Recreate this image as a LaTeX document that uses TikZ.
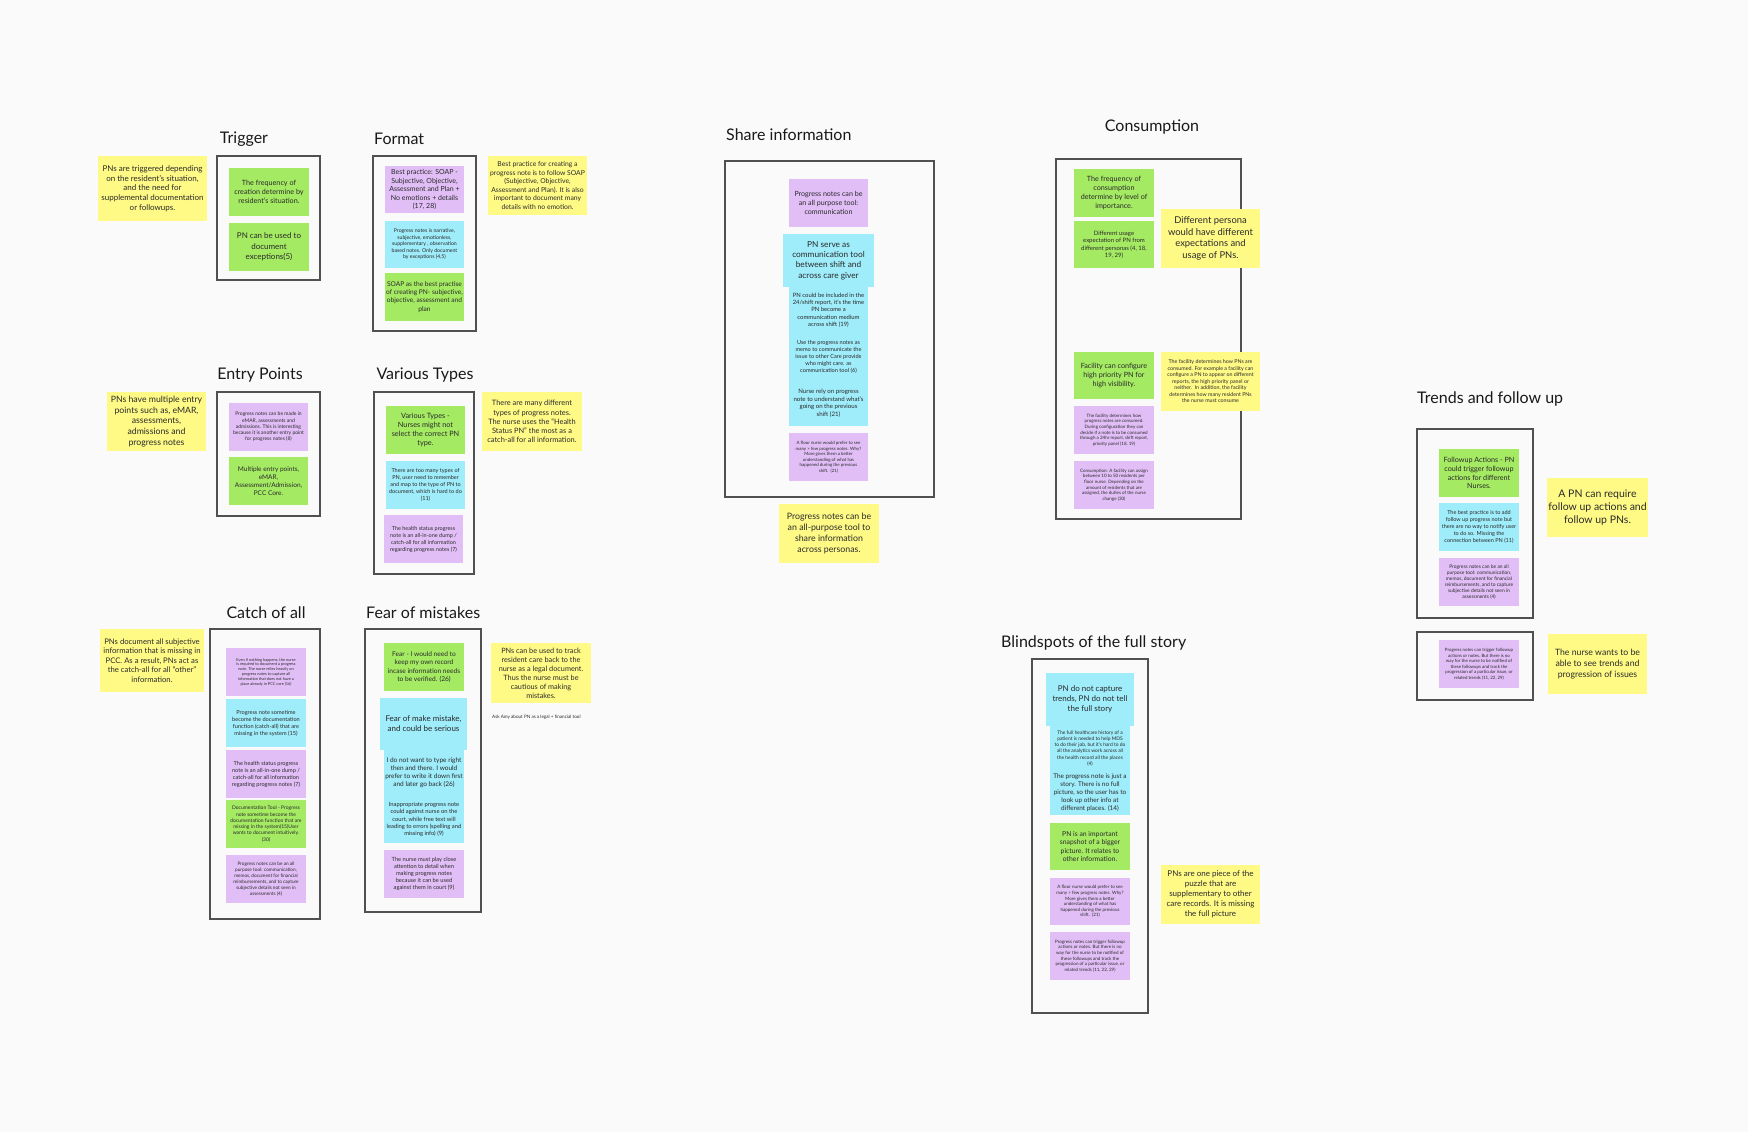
\documentclass[tikz,border=0pt]{standalone}
\usepackage{fontspec}
\setmainfont{Lato}
\definecolor{bgc}{HTML}{FAFAFA}
\definecolor{ylw}{HTML}{FFFA86}
\definecolor{grn}{HTML}{A4EA63}
\definecolor{blu}{HTML}{9FECFA}
\definecolor{prp}{HTML}{E1BEF6}
\definecolor{frm}{HTML}{505050}
\definecolor{txt}{HTML}{2A2A2A}
\newcommand\fs[2]{\fontsize{#1}{#2}\selectfont}
\newcommand\stk[8]{\pgfmathsetmacro\stkw{#5-#3}\pgfmathsetmacro\stkh{#6-#4}\pgfmathsetmacro\stkx{(#3+#5)/2}\pgfmathsetmacro\stky{(#4+#6)/2}%
  \node[#2, minimum width=\stkw pt, minimum height=\stkh pt, font=#7] (#1) at (\stkx,\stky) {#8};}
\newcommand\frmbox[5]{\pgfmathsetmacro\stkw{#4-#2}\pgfmathsetmacro\stkh{#5-#3}\pgfmathsetmacro\stkx{(#2+#4)/2}\pgfmathsetmacro\stky{(#3+#5)/2}%
  \node[frame, minimum width=\stkw pt, minimum height=\stkh pt] (#1) at (\stkx,\stky) {};}
\tikzset{
  note/.style={rectangle, inner sep=1pt, align=center, text=txt, draw=none},
  yl/.style={note, fill=ylw},
  gr/.style={note, fill=grn},
  bl/.style={note, fill=blu},
  pr/.style={note, fill=prp},
  frame/.style={rectangle, draw=frm, line width=1.4pt, fill=bgc, inner sep=0pt},
  ttl/.style={text=black!90, font=\fs{16}{19}, inner sep=0pt}
}
\begin{document}
\begin{tikzpicture}[x=1pt,y=-1pt]
\fill[bgc] (0,0) rectangle (1748,1132);
\useasboundingbox (0,0) rectangle (1748,1132);

% titles
\node[ttl] (tTrig) at (244,139) {Trigger};
\node[ttl, anchor=west] (tForm) at (374,139) {Format};
\node[ttl] (tEntry) at (260,375) {Entry Points};
\node[ttl] (tVar) at (425,375) {Various Types};
\node[ttl] (tCatch) at (266,613) {Catch of all};
\node[ttl, anchor=west] (tFear) at (366,613) {Fear of mistakes};
\node[ttl, anchor=west] (tShare) at (726,135) {Share information};
\node[ttl] (tCons) at (1152,127) {Consumption};
\node[ttl, anchor=west] (tTrend) at (1417,399) {Trends and follow up};
\node[ttl, anchor=west] (tBlind) at (1001,643) {Blindspots of the full story};

% frames
\frmbox{fTrig}{217}{156}{320}{280}
\frmbox{fForm}{373}{156}{476}{331}
\frmbox{fEntry}{217}{392}{320}{516}
\frmbox{fVar}{374}{392}{474}{574}
\frmbox{fCatch}{210}{629}{320}{919}
\frmbox{fFear}{365}{629}{481}{912}
\frmbox{fShare}{725}{161}{934}{497}
\frmbox{fCons}{1056}{159}{1241}{519}
\frmbox{fTrendA}{1417}{429}{1533}{618}
\frmbox{fTrendB}{1417}{632}{1533}{700}
\frmbox{fBlind}{1032}{659}{1148}{1013}

% Trigger
\stk{trY}{yl}{98}{156}{207}{221}{\fs{8}{9.7}}{PNs are triggered depending\\on the resident's situation,\\and the need for\\supplemental documentation\\or followups.}
\stk{trG1}{gr}{229}{168}{309}{216}{\fs{7.2}{9}}{The frequency of\\creation determine by\\resident's situation.}
\stk{trG2}{gr}{229}{223}{309}{271}{\fs{8}{10.3}}{PN can be used to\\document\\exceptions(5)}

% Format
\stk{foP}{pr}{385}{166}{464}{213}{\fs{7}{8.5}}{Best practice: SOAP -\\Subjective, Objective,\\Assessment and Plan +\\No emotions + details\\(17, 28)}
\stk{foB}{bl}{385}{221}{464}{268}{\fs{5.2}{6.5}}{Progress notes is narrative,\\subjective, emotionless,\\supplementary , observation\\based notes. Only document\\by exceptions (4,5)}
\stk{foG}{gr}{385}{273}{464}{321}{\fs{6.6}{8.1}}{SOAP as the best practise\\of creating PN- subjective,\\objective, assessment and\\plan}
\stk{foY}{yl}{488}{156}{587}{215}{\fs{6.8}{8.5}}{Best practice for creating a\\progress note is to follow SOAP\\(Subjective, Objective,\\Assessment and Plan). It is also\\important to document many\\details with no emotion.}

% Entry points
\stk{enY}{yl}{107}{392}{206}{451}{\fs{8.7}{10.7}}{PNs have multiple entry\\points such as, eMAR,\\assessments,\\admissions and\\progress notes}
\stk{enP}{pr}{229}{403}{308}{451}{\fs{5}{6.2}}{Progress notes can be made in\\eMAR, assessments and\\admissions. This is interesting\\because it is another entry point\\for progress notes (8)}
\stk{enG}{gr}{229}{457}{308}{505}{\fs{6.5}{8}}{Multiple entry points,\\eMAR,\\Assessment/Admission,\\PCC Core.}

% Various types
\stk{vaG}{gr}{386}{406}{465}{454}{\fs{7.3}{8.8}}{Various Types -\\Nurses might not\\select the correct PN\\type.}
\stk{vaB}{bl}{386}{461}{465}{509}{\fs{5.5}{7}}{There are too many types of\\PN, user need to remember\\and map to the type of PN to\\document, which is hard to do\\(11)}
\stk{vaP}{pr}{384}{515}{463}{563}{\fs{5.5}{7}}{The health status progress\\note is an all-in-one dump /\\catch-all for all information\\regarding progress notes (7)}
\stk{vaY}{yl}{482}{392}{582}{451}{\fs{7.4}{9.1}}{There are many different\\types of progress notes.\\The nurse uses the ``Health\\Status PN'' the most as a\\catch-all for all information.}

% Catch of all
\stk{caY}{yl}{100}{629}{204}{692}{\fs{7.7}{9.5}}{PNs document all subjective\\information that is missing in\\PCC. As a result, PNs act as\\the catch-all for all ``other''\\information.}
\stk{caP1}{pr}{226}{648}{306}{696}{\fs{3.9}{4.8}}{Even if nothing happens, the nurse\\is required to document a progress\\note. The nurse relies heavily on\\progress notes to capture all\\information that does not have a\\place already in PCC core (16)}
\stk{caB}{bl}{226}{699}{306}{747}{\fs{5.6}{7}}{Progress note sometime\\become the documentation\\function (catch-all) that are\\missing in the system (15)}
\stk{caP2}{pr}{226}{750}{306}{798}{\fs{5.6}{7}}{The health status progress\\note is an all-in-one dump /\\catch-all for all information\\regarding progress notes (7)}
\stk{caG}{gr}{226}{800}{306}{848}{\fs{5}{6.3}}{Documentation Tool - Progress\\note sometime become the\\documentation function that are\\missing in the system(15)User\\wants to document intuitively.\\(30)}
\stk{caP3}{pr}{226}{855}{306}{903}{\fs{4.7}{5.9}}{Progress notes can be an all\\purpose tool: communication,\\memos, document for financial\\reimbursements, and to capture\\subjective details not seen in\\assessments (4)}

% Fear of mistakes
\stk{feG}{gr}{384}{643}{464}{691}{\fs{6.6}{8.2}}{Fear - I would need to\\keep my own record\\incase information needs\\to be verified. (26)}
\stk{feB2}{bl}{384}{749}{464}{796.5}{\fs{6.5}{8}}{I do not want to type right\\then and there. I would\\prefer to write it down first\\and later go back (26)}
\stk{feB3}{bl}{384}{796}{464}{843}{\fs{5.8}{7.2}}{Inappropriate progress note\\could against nurse on the\\court, while free text will\\leading to errors (spelling and\\missing info) (9)}
\stk{feB1}{bl}{380}{698}{467}{750}{\fs{8}{10}}{Fear of make mistake,\\and could be serious}
\stk{feP}{pr}{384}{850}{464}{898}{\fs{5.7}{7.1}}{The nurse must play close\\attention to detail when\\making progress notes\\because it can be used\\against them in court (9)}
\stk{feY}{yl}{491}{643}{591}{703}{\fs{7.3}{9}}{PNs can be used to track\\resident care back to the\\nurse as a legal document.\\Thus the nurse must be\\cautious of making\\mistakes.}
\node[anchor=west, inner sep=0pt, text=txt, font=\fs{4.6}{5.5}] (feAsk) at (492,717) {Ask Amy about PN as a legal + financial tool};

% Share information
\stk{shP1}{pr}{789}{179}{868}{227}{\fs{7.1}{8.8}}{Progress notes can be\\an all purpose tool:\\communication}
\stk{shB2}{bl}{789}{286}{868}{334.5}{\fs{5.9}{7.3}}{PN could be included in the\\24/shift report, it's the time\\PN become a\\communication medium\\across shift (19)}
\stk{shB3}{bl}{789}{334}{868}{380.5}{\fs{5.6}{7}}{Use the progress notes as\\memo to communicate the\\issue to other Care provide\\who might care. as\\communication tool (6)}
\stk{shB4}{bl}{789}{380}{868}{426}{\fs{6.1}{7.6}}{Nurse rely on progress\\note to understand what's\\going on the previous\\shift (21)}
\stk{shB1}{bl}{783}{234}{874}{287}{\fs{8.3}{10.3}}{PN serve as\\communication tool\\between shift and\\across care giver}
\stk{shP2}{pr}{789}{433}{868}{481}{\fs{4.4}{5.5}}{A floor nurse would prefer to see\\many > few progress notes. Why?\\More gives them a better\\understanding of what has\\happened during the previous\\shift.\ \ (21)}
\stk{shY}{yl}{779}{504}{879}{563}{\fs{8.8}{10.9}}{Progress notes can be\\an all-purpose tool to\\share information\\across personas.}

% Consumption
\stk{coG1}{gr}{1074}{169}{1154}{217}{\fs{7.2}{8.9}}{The frequency of\\consumption\\determine by level of\\importance.}
\stk{coG2}{gr}{1074}{221}{1154}{268}{\fs{6}{7.5}}{Different usage\\expectation of PN from\\different personas (4, 18,\\19, 29)}
\stk{coY1}{yl}{1161}{209}{1260}{268}{\fs{9.4}{11.7}}{Different persona\\would have different\\expectations and\\usage of PNs.}
\stk{coG3}{gr}{1074}{352}{1154}{399}{\fs{7.2}{8.9}}{Facility can configure\\high priority PN for\\high visibility.}
\stk{coP1}{pr}{1074}{406}{1154}{454}{\fs{4.5}{5.6}}{The facility determines how\\progress notes are consumed.\\During configuration they can\\decide if a note is to be consumed\\through a 24hr report, shift report,\\priority panel (18, 19)}
\stk{coP2}{pr}{1074}{461}{1154}{509}{\fs{4.5}{5.6}}{Consumption: A facility can assign\\between 10 to 50 residents per\\floor nurse. Depending on the\\amount of residents that are\\assigned, the duties of the nurse\\change (30)}
\stk{coY2}{yl}{1161}{352}{1260}{411}{\fs{5.3}{6.5}}{The facility determines how PNs are\\consumed. For example a facility can\\configure a PN to appear on different\\reports, the high priority panel or\\neither.\ \ In addition, the facility\\determines how many resident PNs\\the nurse must consume}

% Trends and follow up
\stk{tfG}{gr}{1439}{449}{1519}{497}{\fs{7.2}{8.9}}{Followup Actions - PN\\could trigger followup\\actions for different\\Nurses.}
\stk{tfB}{bl}{1439}{503}{1519}{551}{\fs{5.5}{6.9}}{The best practice is to add\\follow up progress note but\\there are no way to notify user\\to do so. Missing the\\connection between PN (11)}
\stk{tfP1}{pr}{1439}{558}{1519}{606}{\fs{4.9}{6.1}}{Progress notes can be an all\\purpose tool: communication,\\memos, document for financial\\reimbursements, and to capture\\subjective details not seen in\\assessments (4)}
\stk{tfY1}{yl}{1548}{478}{1647}{537}{\fs{10.5}{13}}{A PN can require\\follow up actions and\\follow up PNs.}
\stk{tfP2}{pr}{1439}{640}{1519}{688}{\fs{4.4}{5.5}}{Progress notes can trigger followup\\actions or notes. But there is no\\way for the nurse to be notified of\\these followups and track the\\progression of a particular issue, or\\related trends (11, 22, 29)}
\stk{tfY2}{yl}{1548}{634}{1647}{694}{\fs{8.7}{10.8}}{The nurse wants to be\\able to see trends and\\progression of issues}

% Blindspots
\stk{blB2}{bl}{1050}{725}{1130}{771.5}{\fs{4.9}{6.2}}{The full healthcare history of a\\patient is needed to help MDS\\to do their job, but it's hard to do\\all the analytics work across all\\the health record all the places\\(4)}
\stk{blB3}{bl}{1050}{771}{1130}{815}{\fs{6.4}{8}}{The progress note is just a\\story. There is no full\\picture, so the user has to\\look up other info at\\different places. (14)}
\stk{blB1}{bl}{1046}{673}{1134}{726}{\fs{8}{9.8}}{PN do not capture\\trends, PN do not tell\\the full story}
\stk{blG}{gr}{1050}{823}{1130}{870}{\fs{6.8}{8.4}}{PN is an important\\snapshot of a bigger\\picture. It relates to\\other information.}
\stk{blP1}{pr}{1050}{878}{1130}{925}{\fs{4.5}{5.6}}{A floor nurse would prefer to see\\many > few progress notes. Why?\\More gives them a better\\understanding of what has\\happened during the previous\\shift.\ \ (21)}
\stk{blP2}{pr}{1050}{932}{1130}{980}{\fs{4.5}{5.6}}{Progress notes can trigger followup\\actions or notes. But there is no\\way for the nurse to be notified of\\these followups and track the\\progression of a particular issue, or\\related trends (11, 22, 29)}
\stk{blY}{yl}{1161}{865}{1260}{924}{\fs{8}{10}}{PNs are one piece of the\\puzzle that are\\supplementary to other\\care records. It is missing\\the full picture}
\end{tikzpicture}
\end{document}
